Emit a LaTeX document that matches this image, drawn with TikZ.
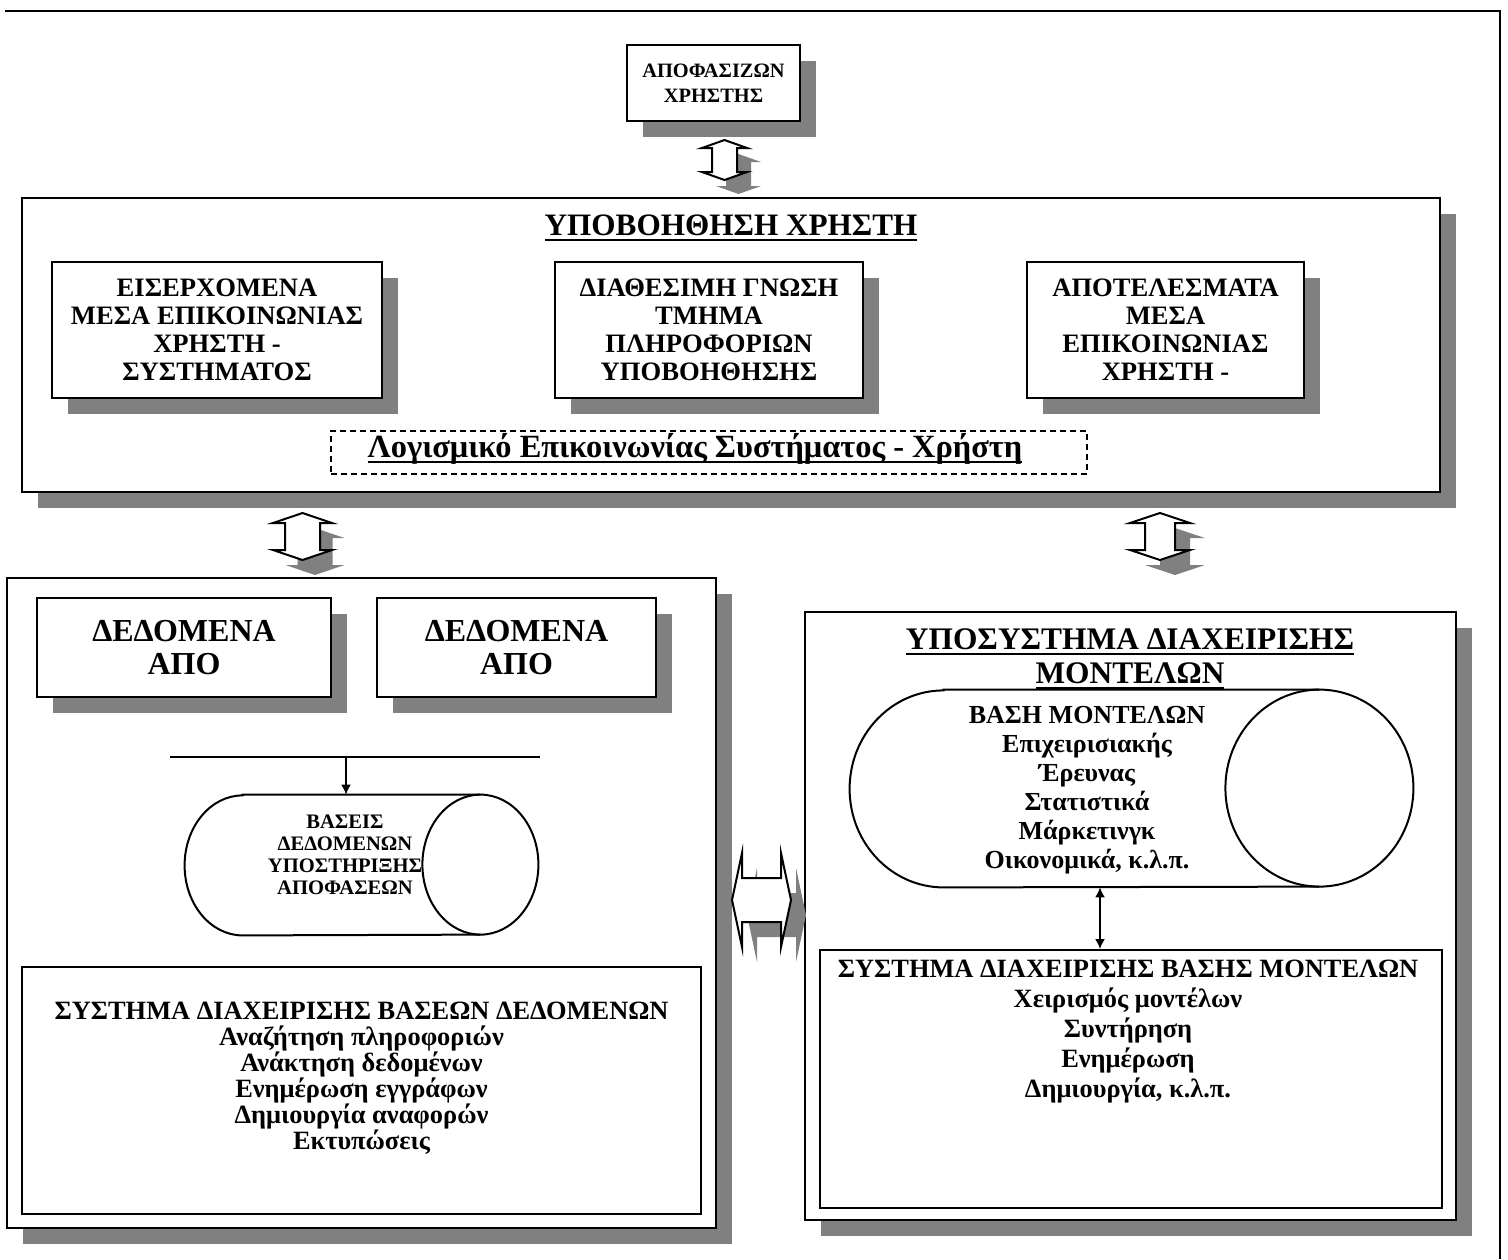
\documentclass[tikz,border=0pt]{standalone}
\usepackage{fontspec}
\setmainfont{Liberation Serif}
\usetikzlibrary{shadows}
\usetikzlibrary{arrows.meta}
\definecolor{shadowgray}{HTML}{808080}
% up-down block arrow: half width, half shaft, half height, head length
\newcommand{\vpath}[4]{(0,-#3) -- (#1,-#3+#4) -- (#2,-#3+#4) -- (#2,#3-#4) -- (#1,#3-#4) -- (0,#3) -- (-#1,#3-#4) -- (-#2,#3-#4) -- (-#2,-#3+#4) -- (-#1,-#3+#4) -- cycle}
% heavy underline
\newcommand{\thickul}[1]{\setbox0\hbox{#1}\rlap{\vrule width\wd0 height -1.6pt depth 2.9pt}\box0}

\begin{document}
\begin{tikzpicture}[x=0.5pt,y=-0.5pt,
	box/.style={draw,fill=white,line width=1pt,inner sep=0pt,align=center},
	shadowed/.style={drop shadow={shadow xshift=8pt,shadow yshift=-8pt,fill=shadowgray,opacity=1}},
	txt/.style={align=center,inner sep=0pt},
	blockarr/.style={draw,fill=white,line width=1pt},
	drum/.style={draw,fill=white,line width=1pt}]
	\useasboundingbox (0,0) rectangle (1508,1259);
	\draw[line width=1.2pt] (5,11) -- (1500,11) -- (1500,1259);

	% top
	\node[box,shadowed,minimum width=86.5pt,minimum height=38pt,font=\bfseries\fontsize{10.2}{12.5}\selectfont] (user) at (713.5,83) {ΑΠΟΦΑΣΙΖΩΝ\\ΧΡΗΣΤΗΣ};
	\fill[shadowgray,shift={(738.5,174)}] \vpath{22.5}{12.5}{20}{8};
	\draw[blockarr,shift={(724.5,160)}] \vpath{22.5}{12.5}{20}{8};

	% user support
	\node[box,shadowed,minimum width=709pt,minimum height=147pt] (assist) at (731,345) {};
	\node[txt,font=\bfseries\fontsize{15.6}{17}\selectfont] (assisttitle) at (731,228) {\thickul{ΥΠΟΒΟΗΘΗΣΗ ΧΡΗΣΤΗ}};
	\node[box,shadowed,minimum width=165pt,minimum height=68pt,font=\bfseries\fontsize{13.3}{14}\selectfont] (inmedia) at (217,330) {ΕΙΣΕΡΧΟΜΕΝΑ\\ΜΕΣΑ ΕΠΙΚΟΙΝΩΝΙΑΣ\\ΧΡΗΣΤΗ -\\ΣΥΣΤΗΜΑΤΟΣ};
	\node[box,shadowed,minimum width=154pt,minimum height=68pt,font=\bfseries\fontsize{13.3}{14}\selectfont] (knowledge) at (709,330) {ΔΙΑΘΕΣΙΜΗ ΓΝΩΣΗ\\ΤΜΗΜΑ\\ΠΛΗΡΟΦΟΡΙΩΝ\\ΥΠΟΒΟΗΘΗΣΗΣ};
	\node[box,shadowed,minimum width=138.5pt,minimum height=68pt,font=\bfseries\fontsize{13.3}{14}\selectfont] (outmedia) at (1165.5,330) {ΑΠΟΤΕΛΕΣΜΑΤΑ\\ΜΕΣΑ\\ΕΠΙΚΟΙΝΩΝΙΑΣ\\ΧΡΗΣΤΗ -};
	\node[draw,dash pattern=on 3pt off 2pt,line width=0.8pt,minimum width=378pt,minimum height=21.5pt,inner sep=0pt] (software) at (709,452.5) {};
	\node[txt,font=\bfseries\fontsize{16.2}{17}\selectfont] (softwaretxt) at (695,449) {\thickul{Λογισμικό Επικοινωνίας Συστήματος - Χρήστη}};

	\fill[shadowgray,shift={(315,551.5)}] \vpath{29.5}{17.5}{23.5}{10};
	\draw[blockarr,shift={(302.5,536.5)}] \vpath{29.5}{17.5}{23.5}{10};
	\fill[shadowgray,shift={(1175,551.5)}] \vpath{30}{15}{23.5}{10};
	\draw[blockarr,shift={(1160,536.5)}] \vpath{30}{15}{23.5}{10};

	% data side
	\node[box,shadowed,minimum width=354.5pt,minimum height=325pt] (datapanel) at (361.5,903) {};
	\node[box,shadowed,minimum width=147pt,minimum height=49.5pt,font=\bfseries\fontsize{16}{16.5}\selectfont] (datafrom1) at (184,647.5) {ΔΕΔΟΜΕΝΑ\\ΑΠΟ};
	\node[box,shadowed,minimum width=139.5pt,minimum height=49.5pt,font=\bfseries\fontsize{16}{16.5}\selectfont] (datafrom2) at (516.5,647.5) {ΔΕΔΟΜΕΝΑ\\ΑΠΟ};
	\coordinate (busleft) at (170,757);
	\coordinate (busright) at (540,757);
	\coordinate (busdrop) at (346,757);
	\draw[line width=0.8pt] (busleft) -- (busright);
	\node[inner sep=0pt,minimum width=176.5pt,minimum height=70pt] (dbdrum) at (361.5,865) {};
	\draw[drum] ([xshift=29pt]dbdrum.north west) -- ([xshift=-29pt]dbdrum.north east) arc (90:-90:29pt and 35pt)
		-- ([xshift=29pt]dbdrum.south west) arc (270:90:29pt and 35pt) -- cycle;
	\draw[line width=1pt] ([xshift=-29pt]dbdrum.north east) arc (90:270:29pt and 35pt);
	\node[txt,font=\bfseries\fontsize{10.3}{11}\selectfont] (dbdrumtxt) at (345,855) {ΒΑΣΕΙΣ\\ΔΕΔΟΜΕΝΩΝ\\ΥΠΟΣΤΗΡΙΞΗΣ\\ΑΠΟΦΑΣΕΩΝ};
	\draw[line width=0.8pt,-{Latex[length=5pt,width=5pt]}] (busdrop) -- (busdrop |- dbdrum.north);
	\node[box,minimum width=339.5pt,minimum height=123.5pt] (dbms) at (361.5,1090.5) {};
	\node[txt,font=\bfseries\fontsize{13.2}{13}\selectfont] (dbmstxt) at (361.5,1078) {ΣΥΣΤΗΜΑ ΔΙΑΧΕΙΡΙΣΗΣ ΒΑΣΕΩΝ ΔΕΔΟΜΕΝΩΝ\\Αναζήτηση πληροφοριών\\Ανάκτηση δεδομένων\\Ενημέρωση εγγράφων\\Δημιουργία αναφορών\\Εκτυπώσεις};

	% model side
	\node[box,shadowed,minimum width=325.5pt,minimum height=304pt] (modelpanel) at (1130.5,916) {};
	\node[txt,font=\bfseries\fontsize{15.7}{17}\selectfont] (modeltitle) at (1130,659) {\thickul{ΥΠΟΣΥΣΤΗΜΑ ΔΙΑΧΕΙΡΙΣΗΣ}\\\thickul{ΜΟΝΤΕΛΩΝ}};
	\node[inner sep=0pt,minimum width=281.5pt,minimum height=98.5pt] (modeldrum) at (1131.5,788.5) {};
	\draw[drum] ([xshift=47pt]modeldrum.north west) -- ([xshift=-47pt]modeldrum.north east) arc (90:-90:47pt and 49.25pt)
		-- ([xshift=47pt]modeldrum.south west) arc (270:90:47pt and 49.25pt) -- cycle;
	\draw[line width=1pt] ([xshift=-47pt]modeldrum.north east) arc (90:270:47pt and 49.25pt);
	\node[txt,font=\bfseries\fontsize{13}{14.5}\selectfont] (modeldrumtxt) at (1087,790) {ΒΑΣΗ ΜΟΝΤΕΛΩΝ\\Επιχειρισιακής\\Έρευνας\\Στατιστικά\\Μάρκετινγκ\\Οικονομικά, κ.λ.π.};
	\node[box,minimum width=311pt,minimum height=129pt] (mbms) at (1131,1079) {};
	\node[txt,font=\bfseries\fontsize{13.2}{15}\selectfont] (mbmstxt) at (1128,1032) {ΣΥΣΤΗΜΑ ΔΙΑΧΕΙΡΙΣΗΣ ΒΑΣΗΣ ΜΟΝΤΕΛΩΝ\\Χειρισμός μοντέλων\\Συντήρηση\\Ενημέρωση\\Δημιουργία, κ.λ.π.};
	\coordinate (modellink) at (1100,0);
	\draw[line width=0.8pt,{Latex[length=5pt,width=5pt]}-{Latex[length=5pt,width=5pt]}] (modellink |- modeldrum.south) -- (modellink |- mbms.north);

	% between the two
	\fill[shadowgray,shift={(776.5,915)},rotate=90] \vpath{47}{22}{29.5}{10};
	\draw[blockarr,shift={(761.5,900)},rotate=90] \vpath{47}{22}{29.5}{10};
\end{tikzpicture}
\end{document}
